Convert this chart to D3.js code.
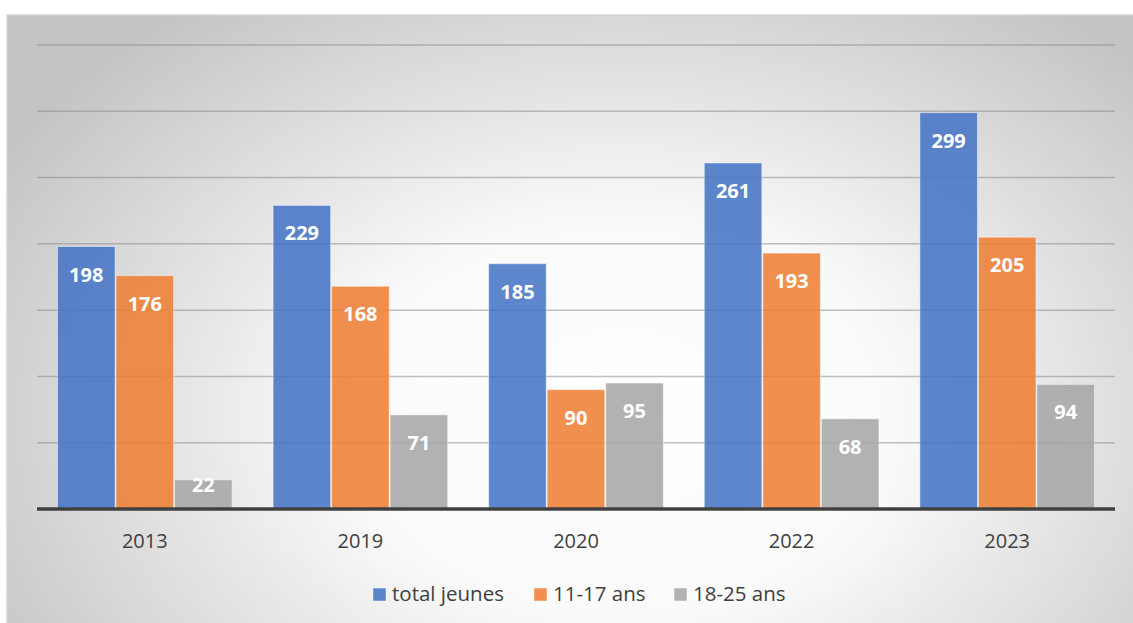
<!DOCTYPE html>
<html lang="fr">
<head>
<meta charset="UTF-8">
<title>Jeunes par année</title>
<script src="https://d3js.org/d3.v7.min.js"></script>
<style>
    body { margin: 0; background: #fff; }
    svg { display: block; font-family: "Open Sans", "Noto Sans", sans-serif; }
</style>
</head>
<body>
<script>
// data
const years = ["2013", "2019", "2020", "2022", "2023"];
const seriesNames = ["total jeunes", "11-17 ans", "18-25 ans"];
const totalJeunes = [198, 229, 185, 261, 299];
const ans11_17 = [176, 168, 90, 193, 205];
const ans18_25 = [22, 71, 95, 68, 94];
const yTicks = [0, 50, 100, 150, 200, 250, 300, 350];
const colors = ["#4472C4", "#ED7D31", "#A5A5A5"];

const W = 1133, H = 623;
const plot = {left: 37, right: 1115, top: 45, bottom: 509};

const svg = d3.select("body").append("svg")
    .attr("width", W)
    .attr("height", H);

// background panel with radial gradient
const defs = svg.append("defs");
const grad = defs.append("radialGradient")
    .attr("id", "bg")
    .attr("gradientUnits", "userSpaceOnUse")
    .attr("cx", 620).attr("cy", 420).attr("r", 720)
    .attr("gradientTransform", "translate(620,420) scale(1,0.72) translate(-620,-420)");
grad.append("stop").attr("offset", "0%").attr("stop-color", "#ffffff");
grad.append("stop").attr("offset", "38%").attr("stop-color", "#fafafa");
grad.append("stop").attr("offset", "100%").attr("stop-color", "#c4c4c4");

svg.append("rect")
    .attr("x", 7).attr("y", 15)
    .attr("width", W).attr("height", H)
    .attr("fill", "url(#bg)")
    .attr("stroke", "#d6d6d6")
    .attr("stroke-width", 1.5);

// scales
const x = d3.scaleBand()
    .domain(years)
    .range([plot.left, plot.right])
    .paddingInner(0.1855)
    .paddingOuter(0.0928);

const xs = d3.scaleBand()
    .domain(seriesNames)
    .range([0, x.bandwidth()]);

const y = d3.scaleLinear()
    .domain([0, 350])
    .range([plot.bottom, plot.top]);

// gridlines
svg.append("g")
    .selectAll("line")
    .data(yTicks.slice(1))
    .join("line")
    .attr("x1", plot.left).attr("x2", plot.right)
    .attr("y1", d => y(d)).attr("y2", d => y(d))
    .attr("stroke", "#8c8c8c")
    .attr("stroke-opacity", 0.55)
    .attr("stroke-width", 1.5);

const table = years.map((yr, i) => ({
    year: yr,
    values: [totalJeunes[i], ans11_17[i], ans18_25[i]]
}));

const groups = svg.append("g")
    .selectAll("g")
    .data(table)
    .join("g")
    .attr("transform", d => `translate(${x(d.year)},0)`);

groups.selectAll("rect")
    .data(d => d.values.map((v, j) => ({name: seriesNames[j], value: v, j})))
    .join("rect")
    .attr("x", d => xs(d.name) + 0.5)
    .attr("width", xs.bandwidth() - 1)
    .attr("y", d => y(d.value))
    .attr("height", d => y(0) - y(d.value))
    .attr("fill", d => colors[d.j])
    .attr("fill-opacity", 0.86)
    .attr("stroke", "#ffffff")
    .attr("stroke-opacity", 0.45)
    .attr("stroke-width", 1);

// labels inside end, kept inside the bar when it is short
groups.selectAll("text")
    .data(d => d.values.map((v, j) => ({name: seriesNames[j], value: v, j})))
    .join("text")
    .attr("x", d => xs(d.name) + xs.bandwidth() / 2)
    .attr("y", d => Math.min(y(d.value) + 35, y(0) - 17))
    .attr("text-anchor", "middle")
    .attr("fill", "#ffffff")
    .attr("font-weight", "bold")
    .attr("font-size", 20)
    .text(d => d.value);

// baseline
svg.append("line")
    .attr("x1", plot.left).attr("x2", plot.right)
    .attr("y1", y(0)).attr("y2", y(0))
    .attr("stroke", "#404040")
    .attr("stroke-width", 3.5);

// category axis
const xAxis = svg.append("g")
    .attr("transform", `translate(0,${plot.bottom})`)
    .call(d3.axisBottom(x).tickSize(0).tickPadding(0));
xAxis.select(".domain").remove();
xAxis.selectAll("text")
    .attr("dy", 0)
    .attr("y", 39)
    .attr("font-size", 20)
    .attr("font-family", "\"Open Sans\", sans-serif")
    .attr("fill", "#404040");

// legend
const legendX = [373, 534, 674];
const legend = svg.append("g")
    .selectAll("g")
    .data(seriesNames)
    .join("g")
    .attr("transform", (d, i) => `translate(${legendX[i]},588)`);
legend.append("rect")
    .attr("width", 13).attr("height", 13)
    .attr("fill", (d, i) => colors[i])
    .attr("fill-opacity", 0.86)
    .attr("stroke", "#ffffff")
    .attr("stroke-opacity", 0.45);
legend.append("text")
    .attr("x", 19).attr("y", 12.5)
    .attr("font-size", 20.5)
    .attr("fill", "#404040")
    .text(d => d);
</script>
</body>
</html>
